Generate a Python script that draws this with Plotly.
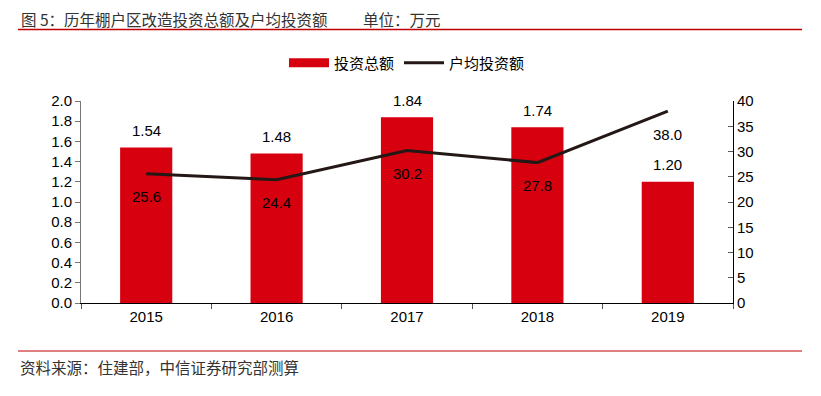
import plotly.graph_objects as go

years = ["2015", "2016", "2017", "2018", "2019"]
total_invest = [1.54, 1.48, 1.84, 1.74, 1.20]
avg_invest = [25.6, 24.4, 30.2, 27.8, 38.0]
bar_labels = ["1.54", "1.48", "1.84", "1.74", "1.20"]
line_labels = ["25.6", "24.4", "30.2", "27.8", "38.0"]

title_text = "图 5：历年棚户区改造投资总额及户均投资额"
unit_text = "单位：万元"
source_text = "资料来源：住建部，中信证券研究部测算"

RED = "#D7000F"
LINE = "#231815"
NUM_FONT = "Liberation Sans"
CJK_FONT = "Noto Sans CJK SC"

W, H = 821, 396
ml, mr, mt, mb = 81, 88, 101, 93
pw, ph = W - ml - mr, H - mt - mb


def px(x):
    return (x - ml) / pw


def py(y):
    return (H - mb - y) / ph


fig = go.Figure()
fig.add_trace(go.Bar(
    x=years, y=total_invest, name="投资总额", showlegend=False,
    marker=dict(color=RED, line=dict(width=0)), width=0.4,
    yaxis="y",
))
# legend proxy for the bar series (wide red swatch as in the reference)
fig.add_trace(go.Scatter(
    x=[None], y=[None], name="投资总额", mode="lines",
    line=dict(color=RED, width=9), yaxis="y",
))
fig.add_trace(go.Scatter(
    x=years, y=avg_invest, name="户均投资额", mode="lines",
    line=dict(color=LINE, width=3), yaxis="y2",
))

annotations = []
for i, (v, t) in enumerate(zip(total_invest, bar_labels)):
    annotations.append(dict(x=i, y=v, xref="x", yref="y", text=t, showarrow=False,
                            yshift=17, font=dict(family=NUM_FONT, size=15, color="#000")))
for i, (v, t) in enumerate(zip(avg_invest, line_labels)):
    annotations.append(dict(x=i, y=v, xref="x", yref="y2", text=t, showarrow=False,
                            yshift=-23, font=dict(family=NUM_FONT, size=15, color="#000")))
annotations.append(dict(x=px(19), y=py(19), xref="paper", yref="paper", text=title_text,
                        showarrow=False, xanchor="left", yanchor="middle",
                        font=dict(family=CJK_FONT, size=15.5, color="#333")))
annotations.append(dict(x=px(361), y=py(19), xref="paper", yref="paper", text=unit_text,
                        showarrow=False, xanchor="left", yanchor="middle",
                        font=dict(family=CJK_FONT, size=15.5, color="#333")))
annotations.append(dict(x=px(18), y=py(367), xref="paper", yref="paper", text=source_text,
                        showarrow=False, xanchor="left", yanchor="middle",
                        font=dict(family=CJK_FONT, size=15.5, color="#333")))

fig.update_layout(
    annotations=annotations,
    shapes=[
        dict(type="line", xref="paper", yref="paper", x0=px(18), x1=px(802), y0=py(29.5), y1=py(29.5),
             line=dict(color="#C00000", width=1.5)),
        dict(type="line", xref="paper", yref="paper", x0=px(18), x1=px(802), y0=py(351), y1=py(351),
             line=dict(color="#C00000", width=1)),
    ],
    width=W, height=H,
    margin=dict(l=ml, r=mr, t=mt, b=mb, autoexpand=False),
    paper_bgcolor="white", plot_bgcolor="white",
    showlegend=True,
    legend=dict(orientation="h", x=0.5, xanchor="center", y=py(63), yanchor="middle",
                font=dict(family=CJK_FONT, size=15, color="#000"), itemwidth=40,
                traceorder="normal"),
    xaxis=dict(type="category", range=[-0.5, 4.5], autorange=False, showline=True,
               linecolor="#000", linewidth=1,
               ticks="outside", tickson="boundaries", ticklen=5, tickcolor="#555",
               tickfont=dict(family=NUM_FONT, size=15, color="#000"), showgrid=False),
    yaxis=dict(range=[0, 2.0], dtick=0.2, tickformat=".1f", showline=True, linecolor="#777",
               linewidth=1, ticks="outside", ticklen=5, tickcolor="#777", showgrid=False,
               zeroline=False, tickfont=dict(family=NUM_FONT, size=15, color="#000")),
    yaxis2=dict(range=[0, 40], dtick=5, overlaying="y", side="right", showline=True,
                linecolor="#000", linewidth=1, ticks="inside", ticklen=5, tickcolor="#555",
                showgrid=False, zeroline=False,
                tickfont=dict(family=NUM_FONT, size=15, color="#000")),
)

fig.write_html("out.html", config={"displayModeBar": False},
               post_script="document.body.style.margin='0';document.body.style.overflow='hidden';")
